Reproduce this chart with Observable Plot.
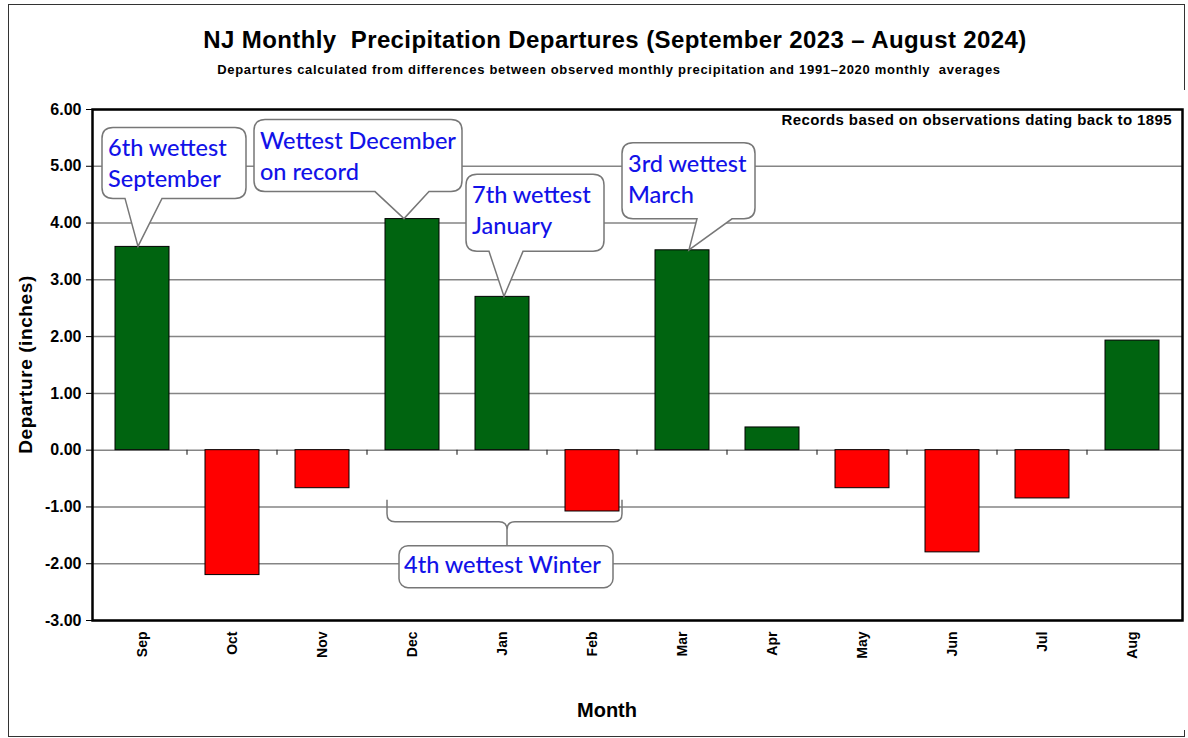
<!DOCTYPE html>
<html><head><meta charset="utf-8">
<script src="https://cdn.jsdelivr.net/npm/d3@7"></script>
<script src="https://cdn.jsdelivr.net/npm/@observablehq/plot@0.6"></script>
<style>
body{margin:0;background:#fff;font-family:"Liberation Sans",Arial,sans-serif;}
#frame{position:absolute;left:8px;top:4px;width:1175px;height:731px;border:1.5px solid #333;}
#title{position:absolute;left:0;width:1230px;top:28px;line-height:24px;text-align:center;font-weight:bold;font-size:24px;letter-spacing:0.4px;white-space:pre;color:#000;}
#subtitle{position:absolute;left:0;width:1218px;top:63px;line-height:13px;text-align:center;font-weight:bold;font-size:13px;letter-spacing:0.7px;white-space:pre;color:#000;}
#chart{position:absolute;left:9px;top:90px;}
#chart g[aria-label="y-axis tick label"] text{font-size:16px;}
#chart g[aria-label="x-axis tick label"] text{font-size:14px;}
</style></head>
<body>
<div id="frame"></div>
<div id="title">NJ Monthly  Precipitation Departures (September 2023 – August 2024)</div>
<div id="subtitle">Departures calculated from differences between observed monthly precipitation and 1991–2020 monthly  averages</div>
<div id="chart"></div>
<script>
const months = ["Sep","Oct","Nov","Dec","Jan","Feb","Mar","Apr","May","Jun","Jul","Aug"];
const departures = [3.58,-2.20,-0.67,4.07,2.70,-1.08,3.52,0.40,-0.67,-1.80,-0.85,1.93];
const yTicks = [-3,-2,-1,0,1,2,3,4,5,6];
const calloutMonths = ["Sep","Dec","Jan","Mar"];
const calloutLines = [["6th wettest","September"],["Wettest December","on record"],["7th wettest","January"],["3rd wettest","March"]];
const winterMonths = ["Dec","Jan","Feb"];
const winterLabel = "4th wettest Winter";
const recordsNote = "Records based on observations dating back to 1895";
const yLabel = "Departure (inches)";
const xLabel = "Month";

const data = months.map((m,i)=>({month:m, value:departures[i]}));

// layout of callouts (pixel offsets relative to bar top centre): [left,top,right,bottom,pointerL,pointerR,tipDx]
const calloutLayout = [
  [-40,-119,104,-48,-17,20,-4],
  [-158,-99,50,-27,-37,17,-8],
  [-36,-122,102,-45,-13,21,2],
  [-60,-107,73,-31,15,50,7]
];

const font = "Liberation Sans, Arial, sans-serif";
const plot = Plot.plot({
  width:1176, height:640, marginTop:19, marginLeft:83, marginRight:3, marginBottom:110,
  style:{fontFamily:font, fontWeight:"bold", color:"#000", background:"#fff", overflow:"visible"},
  x:{domain:months, paddingInner:0.4, paddingOuter:0.2, label:null},
  y:{domain:[-3,6], label:null},
  marks:[
    Plot.ruleY(yTicks,{stroke:"#858585", strokeWidth:1.5}),
    Plot.barY(data.filter(d=>d.value>=0),{x:"month", y:"value", fill:"#006410", stroke:"#000", strokeWidth:1}),
    Plot.barY(data.filter(d=>d.value<0),{x:"month", y:"value", fill:"#ff0000", stroke:"#000", strokeWidth:1}),
    Plot.frame({stroke:"#000", strokeWidth:2.5}),
    Plot.axisY({ticks:yTicks, tickFormat:d=>d.toFixed(2), tickSize:6, tickPadding:5, fontSize:16, label:null, stroke:"#000"}),
    Plot.axisX({tickRotate:-90, tickSize:0, tickPadding:11, fontSize:14, label:null})
  ]
});
document.getElementById("chart").appendChild(plot);

const sx = plot.scale("x"), sy = plot.scale("y");
const bw = sx.bandwidth, step = sx.step;
const cx = m => sx.apply(m) + bw/2;
const svg = d3.select(plot);
const y0 = sy.apply(0);

// make sure tick label sizes apply
svg.selectAll('g[aria-label="y-axis tick label"]').attr("font-size",16).selectAll("text").style("font-size","16px");
svg.selectAll('g[aria-label="x-axis tick label"]').attr("font-size",14).selectAll("text").style("font-size","14px");

// small ticks on zero line at category boundaries
const tg = svg.append("g").attr("stroke","#333").attr("stroke-width",1.2);
months.slice(1).forEach(m=>{
  const x = sx.apply(m) - (step-bw)/2;
  tg.append("line").attr("x1",x).attr("x2",x).attr("y1",y0).attr("y2",y0+5);
});

// axis titles and note
svg.append("text").attr("transform",`translate(16,${(sy.apply(6)+sy.apply(-3))/2}) rotate(-90)`)
  .attr("text-anchor","middle").attr("dy","0.35em").attr("font-size",19).attr("letter-spacing",0.6).attr("font-weight","bold").text(yLabel);
svg.append("text").attr("x",598).attr("y",620).attr("text-anchor","middle").attr("dy","0.35em")
  .attr("font-size",20).attr("font-weight","bold").text(xLabel);
svg.append("text").attr("x",1163).attr("y",35).attr("text-anchor","end")
  .attr("font-size",15).attr("letter-spacing",0.4).attr("font-weight","bold").text(recordsNote);

const blue = "#1212e8";
const calloutFont = "Lato, 'Noto Sans', sans-serif";
const cg = svg.append("g").attr("text-anchor","start");
calloutMonths.forEach((m,i)=>{
  const v = departures[months.indexOf(m)];
  const ax = cx(m), ay = sy.apply(v);
  const [l,t,r,b,pl,pr,tdx] = calloutLayout[i];
  const L=ax+l, T=ay+t, R=ax+r, B=ay+b, PL=ax+pl, PR=ax+pr, TX=ax+tdx, TY=ay, rr=11;
  const d = `M${L+rr},${T}H${R-rr}Q${R},${T} ${R},${T+rr}V${B-rr}Q${R},${B} ${R-rr},${B}H${PR}L${TX},${TY}L${PL},${B}H${L+rr}Q${L},${B} ${L},${B-rr}V${T+rr}Q${L},${T} ${L+rr},${T}Z`;
  cg.append("path").attr("d",d).attr("fill","#fff").attr("stroke","#777").attr("stroke-width",1.5);
  calloutLines[i].forEach((s,j)=>{
    cg.append("text").attr("x",L+6).attr("y",T+29+j*31).attr("fill",blue).attr("text-anchor","start")
      .attr("font-family",calloutFont).attr("font-size",23.5).attr("font-weight",500).text(s);
  });
});

// winter bracket
const wl = sx.apply(winterMonths[0]) + 2, wr = sx.apply(winterMonths[2]) + bw + 3;
const wc = cx(winterMonths[1]) + 5;
const bt = y0 + 50, bh = y0 + 72, boxT = y0 + 96, boxB = y0 + 138;
const br = 8;
cg.append("path").attr("fill","none").attr("stroke","#777").attr("stroke-width",1.5)
  .attr("d",`M${wl},${bt}V${bh-br}Q${wl},${bh} ${wl+br},${bh}H${wc-br}Q${wc},${bh} ${wc},${bh+br}V${boxT}M${wr},${bt}V${bh-br}Q${wr},${bh} ${wr-br},${bh}H${wc+br}Q${wc},${bh} ${wc},${bh+br}`);
const boxL = wc - 108, boxR = wc + 106;
cg.append("rect").attr("x",boxL).attr("y",boxT).attr("width",boxR-boxL).attr("height",boxB-boxT)
  .attr("rx",9).attr("fill","#fff").attr("stroke","#777").attr("stroke-width",1.5);
cg.append("text").attr("x",boxL+5).attr("y",boxT+27).attr("fill",blue).attr("text-anchor","start")
  .attr("font-family",calloutFont).attr("font-size",23.5).attr("font-weight",500).text(winterLabel);
</script>
</body></html>
